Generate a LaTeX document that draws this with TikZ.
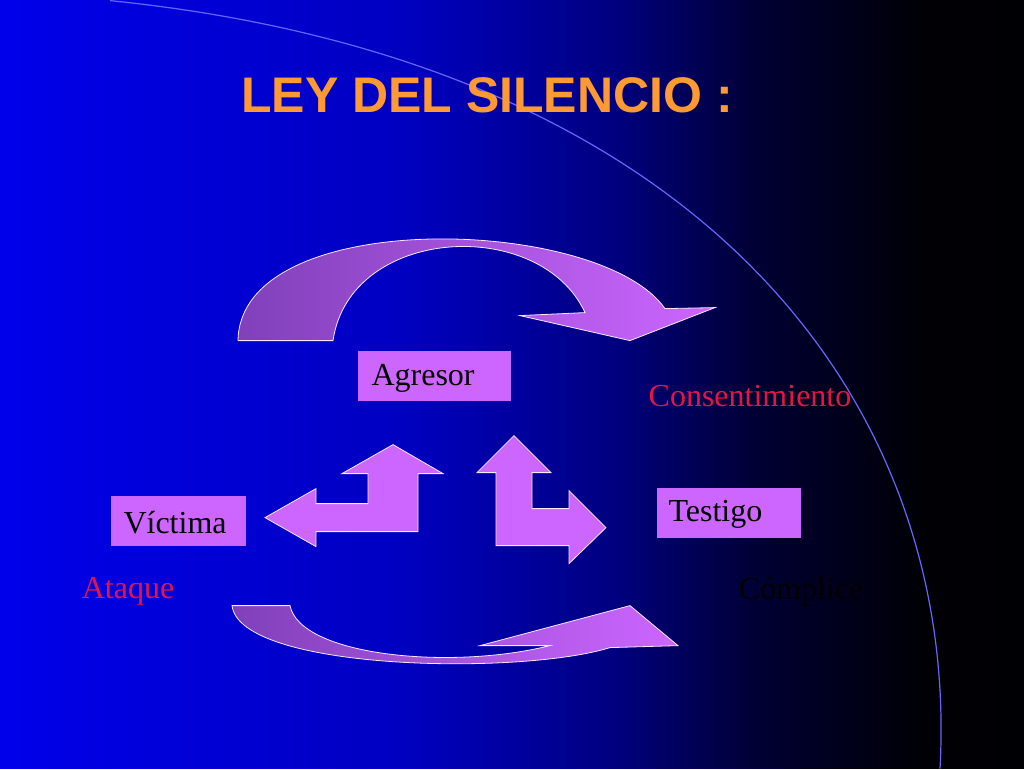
\documentclass[tikz,border=0pt]{standalone}
\usepackage{fontspec}
\setmainfont{Liberation Serif}
\newfontfamily\headfont{Liberation Sans}
\pgfdeclarehorizontalshading{hintergrund}{100bp}{rgb(0bp)=(0,0,0.92); rgb(25bp)=(0,0,0.92); rgb(45bp)=(0,0,0.75); rgb(55bp)=(0,0,0.5); rgb(62bp)=(0,0,0.2); rgb(70bp)=(0,0,0.02); rgb(100bp)=(0,0,0)}
\begin{document}
\begin{tikzpicture}[x=1pt,y=-1pt,
    lilabox/.style={fill=lila,minimum width=153pt,minimum height=50pt,anchor=north west,inner sep=0pt},
    bendarrow/.style={fill=lila,draw=white!85!lila,line width=0.8pt},
    curvearrow/.style={left color=lila!70!black!90!blue,right color=lila,draw=white!85!lila,line width=0.8pt},
    lbl/.style={font=\fontsize{32}{34}\selectfont}]
    % Farben
    \definecolor{lila}{RGB}{204,102,255}
    \definecolor{titel}{RGB}{255,153,51}
    \definecolor{rotlbl}{RGB}{230,20,70}

    % Hintergrund
    \shade[shading=hintergrund] (0,0) rectangle (1024,768);
    \draw[blue!60!white,line width=1.2pt] (110,0) .. controls (700,60) and (960,400) .. (940,768);

    % Titel
    \node[font=\headfont\bfseries\fontsize{50}{54}\selectfont,text=titel] (title) at (487,95) {LEY DEL SILENCIO :};

    % Kaesten
    \node[lilabox,anchor=north west] (agresor) at (358,350) {};
    \node[lbl,anchor=west] at (368,378) {Agresor};
    \node[lilabox,minimum width=135pt,anchor=north west] (victima) at (111,495) {};
    \node[lbl,anchor=west] at (120,522) {Víctima};
    \node[lilabox,minimum width=144pt,anchor=north west] (testigo) at (657,487) {};
    \node[lbl,anchor=west] at (665,514) {Testigo};

    % Beschriftungen
    \node[lbl,text=rotlbl] (consent) at (750,395) {Consentimiento};
    \node[lbl,text=rotlbl] (ataque) at (128,591) {Ataque};
    \node[lbl,text=black] (complice) at (801,591) {Cómplice};

    % Winkelpfeile
    \draw[bendarrow] (265,517) -- (316,488) -- (316,503) -- (368,503) -- (368,473) -- (342,473)
        -- (393,444) -- (443,473) -- (418,473) -- (418,531) -- (316,531) -- (316,546) -- cycle;
    \draw[bendarrow] (514,435) -- (551,472) -- (532,472) -- (532,508) -- (569,508) -- (569,490)
        -- (606,527) -- (569,563) -- (569,545) -- (496,545) -- (496,472) -- (477,472) -- cycle;

    % Bogenpfeile
    \draw[curvearrow] (238,340) -- (333,340) .. controls (350,225) and (540,215) .. (585,312)
        -- (520,315) -- (630,340) -- (715,307) -- (665,308)
        .. controls (600,215) and (240,205) .. (238,340) -- cycle;
    \draw[curvearrow] (232,605) -- (290,605) .. controls (300,655) and (450,670) .. (550,645)
        -- (480,645) -- (630,605) -- (678,645) -- (610,647)
        .. controls (520,675) and (240,670) .. (232,605) -- cycle;
\end{tikzpicture}
\end{document}
